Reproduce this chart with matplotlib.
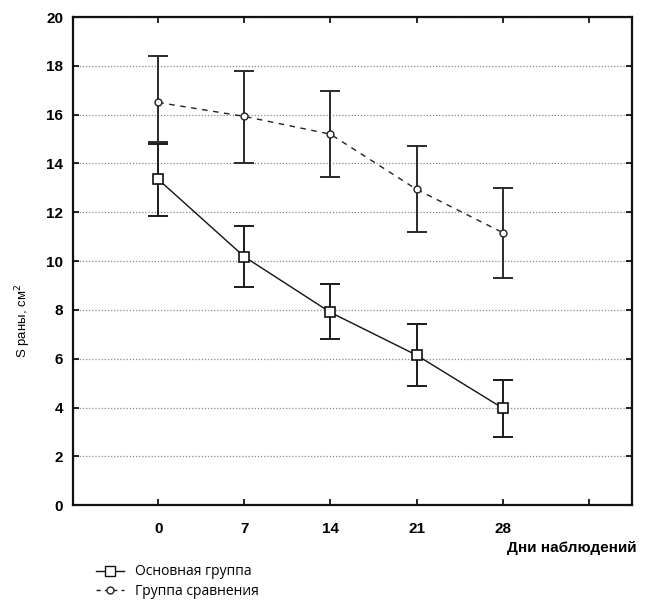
import matplotlib.pyplot as plt
from matplotlib.lines import Line2D

days = ['0', '7', '14', '21', '28']

main_mean = [13.35, 10.18, 7.9, 6.15, 3.98]
main_low = [11.83, 8.95, 6.8, 4.9, 2.8]
main_high = [14.8, 11.43, 9.05, 7.42, 5.12]

comp_mean = [16.5, 15.93, 15.2, 12.94, 11.17]
comp_low = [14.88, 14.04, 13.43, 11.2, 9.32]
comp_high = [18.4, 17.8, 16.96, 14.72, 12.98]

fig = plt.figure(figsize=(6.46, 6.08), dpi=100)
ax = fig.add_axes([0.113, 0.169, 0.865, 0.803])

x = list(range(len(days)))

def yerr(mean, low, high):
    return [[m - l for m, l in zip(mean, low)], [h - m for m, h in zip(mean, high)]]

ax.errorbar(x, comp_mean, yerr=yerr(comp_mean, comp_low, comp_high), fmt='none',
            ecolor='#2a2a2a', elinewidth=1.4, capsize=7, capthick=1.4, zorder=3)
ax.errorbar(x, main_mean, yerr=yerr(main_mean, main_low, main_high), fmt='none',
            ecolor='#1a1a1a', elinewidth=1.4, capsize=7, capthick=1.4, zorder=3)

ax.plot(x, comp_mean, color='#222222', linestyle=(0, (4, 4)), linewidth=1.0,
        marker='o', markersize=5, markerfacecolor='white', markeredgecolor='#222222',
        markeredgewidth=1.0, zorder=4)
ax.plot(x, main_mean, color='#111111', linestyle='-', linewidth=1.0,
        marker='s', markersize=7, markerfacecolor='white', markeredgecolor='#111111',
        markeredgewidth=1.2, zorder=5)

ax.set_xlim(-0.99, 5.5)
ax.set_ylim(0, 20)
ax.set_xticks(list(range(6)))
ax.set_xticklabels(days + [''])
ax.set_yticks(range(0, 21, 2))

ax.yaxis.grid(True, color='#888888', linestyle=(0, (1, 1.5)), linewidth=0.9)
ax.set_axisbelow(True)

for s in ax.spines.values():
    s.set_linewidth(1.6)
    s.set_color('#111111')

ax.tick_params(axis='both', direction='in', length=4, width=1.2,
               top=True, right=True, labelsize=11, pad=12)
ax.tick_params(axis='y', pad=7)
for lab in ax.get_xticklabels() + ax.get_yticklabels():
    lab.set_fontfamily('Liberation Sans')
    lab.set_fontweight('bold')

fig.text(0.036, 0.472, 'S раны, см$^2$', rotation=90, ha='center', va='center',
         fontsize=9.5, family='Liberation Sans')
fig.text(0.985, 0.098, 'Дни наблюдений', ha='right', va='center',
         fontsize=11, family='Liberation Sans', fontweight='bold')

handles = [
    Line2D([], [], color='#111111', linestyle='-', linewidth=1.0, marker='s', markersize=7,
           markerfacecolor='white', markeredgecolor='#111111'),
    Line2D([], [], color='#222222', linestyle=(0, (3, 3)), linewidth=1.0, marker='o',
           markersize=5, markerfacecolor='white', markeredgecolor='#222222'),
]
fig.legend(handles, ['Основная группа', 'Группа сравнения'], loc='lower left',
           bbox_to_anchor=(0.13, -0.005), frameon=False, handlelength=2.0,
           handletextpad=0.8, labelspacing=0.3, prop={'family': 'Open Sans', 'size': 10})

fig.savefig('out.png', dpi=100)
